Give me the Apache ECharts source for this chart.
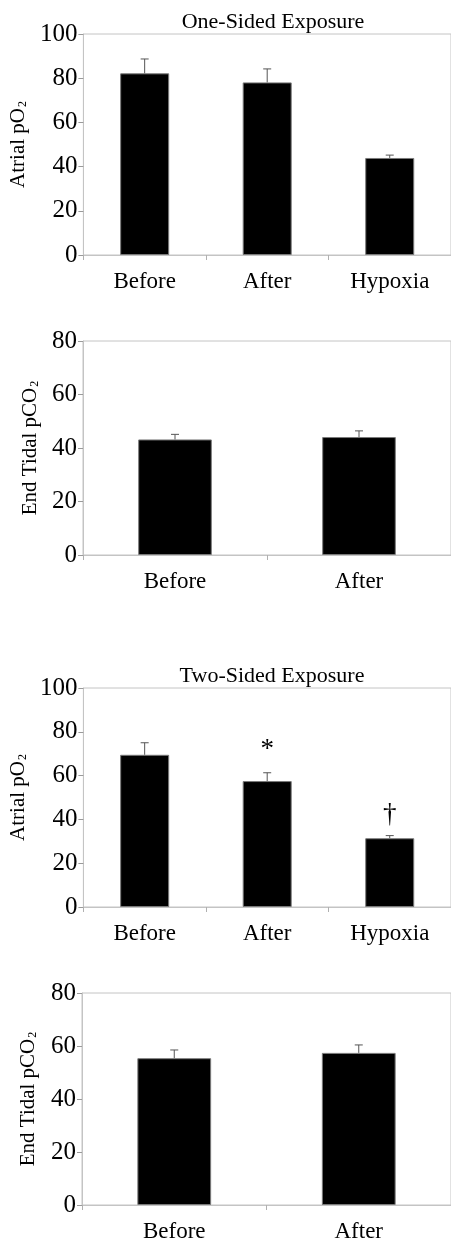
<!DOCTYPE html>
<html>
<head>
<meta charset="utf-8">
<script src="https://cdn.jsdelivr.net/npm/echarts@6/dist/echarts.min.js"></script>
<style>
html,body{margin:0;padding:0;background:#fff;}
#c{width:451px;height:1243px;}
</style>
</head>
<body>
<div id="c"></div>
<script>
// ---- data ----
const atrialCategories = ['Before', 'After', 'Hypoxia'];
const tidalCategories = ['Before', 'After'];

const oneSidedAtrialPO2 = [82.2, 78.1, 43.9];
const oneSidedAtrialPO2Err = [6.5, 6.1, 1.3];
const oneSidedTidalPCO2 = [43.2, 44.1];
const oneSidedTidalPCO2Err = [1.9, 2.3];

const twoSidedAtrialPO2 = [69.5, 57.5, 31.4];
const twoSidedAtrialPO2Err = [5.5, 3.8, 1.2];
const twoSidedAtrialMarks = ['', '*', '\u2020'];
const twoSidedTidalPCO2 = [55.4, 57.4];
const twoSidedTidalPCO2Err = [3.1, 3.0];

const atrialAxisMax = 100;
const tidalAxisMax = 80;
const tickStep = 20;

const panelTitles = ['One-Sided Exposure', 'Two-Sided Exposure'];
const atrialName = ['Atrial pO', '2'];
const tidalName = ['End Tidal pCO', '2'];

// ---- styling / layout ----
const FONT = '"Liberation Serif", "DejaVu Serif", serif';
const grids = [
  { left: 83, top: 34, width: 368, height: 221 },
  { left: 83, top: 341, width: 368, height: 214 },
  { left: 82, top: 688, width: 369, height: 219 },
  { left: 82, top: 993, width: 369, height: 214 }
];
const nameGaps = [46, 42, 46, 43];

const chart = echarts.init(document.getElementById('c'), null, { renderer: 'canvas' });

function yAxis(i, max, nameParts) {
  return {
    type: 'value', gridIndex: i, min: 0, max: max, interval: tickStep,
    name: '{m|' + nameParts[0] + '}{s|' + nameParts[1] + '}',
    nameLocation: 'middle', nameGap: nameGaps[i], nameRotate: 90,
    nameTextStyle: {
      color: '#000', fontFamily: FONT, fontSize: 21,
      rich: {
        m: { fontFamily: FONT, fontSize: 21, color: '#000' },
        s: { fontFamily: FONT, fontSize: 12, color: '#000', verticalAlign: 'bottom', padding: [9, 0, 0, 1] }
      }
    },
    axisLine: { show: true, lineStyle: { color: '#c4c4c4', width: 1 } },
    axisTick: { show: true, length: 5, lineStyle: { color: '#9a9a9a' } },
    axisLabel: { color: '#000', fontFamily: FONT, fontSize: 25, margin: 6 },
    splitLine: { show: false }
  };
}
function xAxis(i, cats) {
  return {
    type: 'category', gridIndex: i, data: cats,
    axisLine: { show: true, lineStyle: { color: '#c4c4c4', width: 1 } },
    axisTick: { show: true, length: 5, lineStyle: { color: '#b0b0b0' } },
    axisLabel: { color: '#000', fontFamily: FONT, fontSize: 23, margin: 15 }
  };
}
function barSeries(i, values) {
  return {
    type: 'bar', xAxisIndex: i, yAxisIndex: i, data: values, barWidth: '40%',
    itemStyle: { color: '#000', borderColor: '#7a7a7a', borderWidth: 1 },
    silent: true, animation: false
  };
}
function errSeries(i, values, errs, marks) {
  return {
    type: 'custom', xAxisIndex: i, yAxisIndex: i, animation: false, silent: true, z: 5,
    data: values.map((v, k) => [k, v, errs[k]]),
    renderItem: function (params, api) {
      const k = api.value(0), v = api.value(1), e = api.value(2);
      const b = api.coord([k, v]);
      const t = api.coord([k, v + e]);
      const ch = [
        { type: 'line', shape: { x1: b[0], y1: b[1], x2: t[0], y2: t[1] }, style: { stroke: '#555', lineWidth: 1 } },
        { type: 'line', shape: { x1: t[0] - 4, y1: t[1], x2: t[0] + 4, y2: t[1] }, style: { stroke: '#555', lineWidth: 1 } }
      ];
      const m = marks ? marks[params.dataIndex] : '';
      if (m) {
        const isStar = m === '*';
        ch.push({
          type: 'text',
          style: {
            text: m, x: t[0], y: t[1] - (isStar ? 9 : 7),
            align: 'center', verticalAlign: 'bottom',
            font: (isStar ? 27 : 27) + 'px ' + FONT, fill: '#000'
          }
        });
      }
      return { type: 'group', children: ch };
    }
  };
}

const option = {
  backgroundColor: '#fff',
  animation: false,
  title: [
    { text: panelTitles[0], left: 268, top: 6, textAlign: 'center',
      textStyle: { fontFamily: FONT, fontSize: 22, fontWeight: 'normal', color: '#000' } },
    { text: panelTitles[1], left: 267, top: 660, textAlign: 'center',
      textStyle: { fontFamily: FONT, fontSize: 22, fontWeight: 'normal', color: '#000' } }
  ],
  grid: grids.map(g => Object.assign({ show: true, borderColor: '#c4c4c4', borderWidth: 1, backgroundColor: 'transparent' }, g)),
  xAxis: [xAxis(0, atrialCategories), xAxis(1, tidalCategories), xAxis(2, atrialCategories), xAxis(3, tidalCategories)],
  yAxis: [yAxis(0, atrialAxisMax, atrialName), yAxis(1, tidalAxisMax, tidalName), yAxis(2, atrialAxisMax, atrialName), yAxis(3, tidalAxisMax, tidalName)],
  series: [
    barSeries(0, oneSidedAtrialPO2), errSeries(0, oneSidedAtrialPO2, oneSidedAtrialPO2Err),
    barSeries(1, oneSidedTidalPCO2), errSeries(1, oneSidedTidalPCO2, oneSidedTidalPCO2Err),
    barSeries(2, twoSidedAtrialPO2), errSeries(2, twoSidedAtrialPO2, twoSidedAtrialPO2Err, twoSidedAtrialMarks),
    barSeries(3, twoSidedTidalPCO2), errSeries(3, twoSidedTidalPCO2, twoSidedTidalPCO2Err)
  ]
};
chart.setOption(option);
</script>
</body>
</html>
